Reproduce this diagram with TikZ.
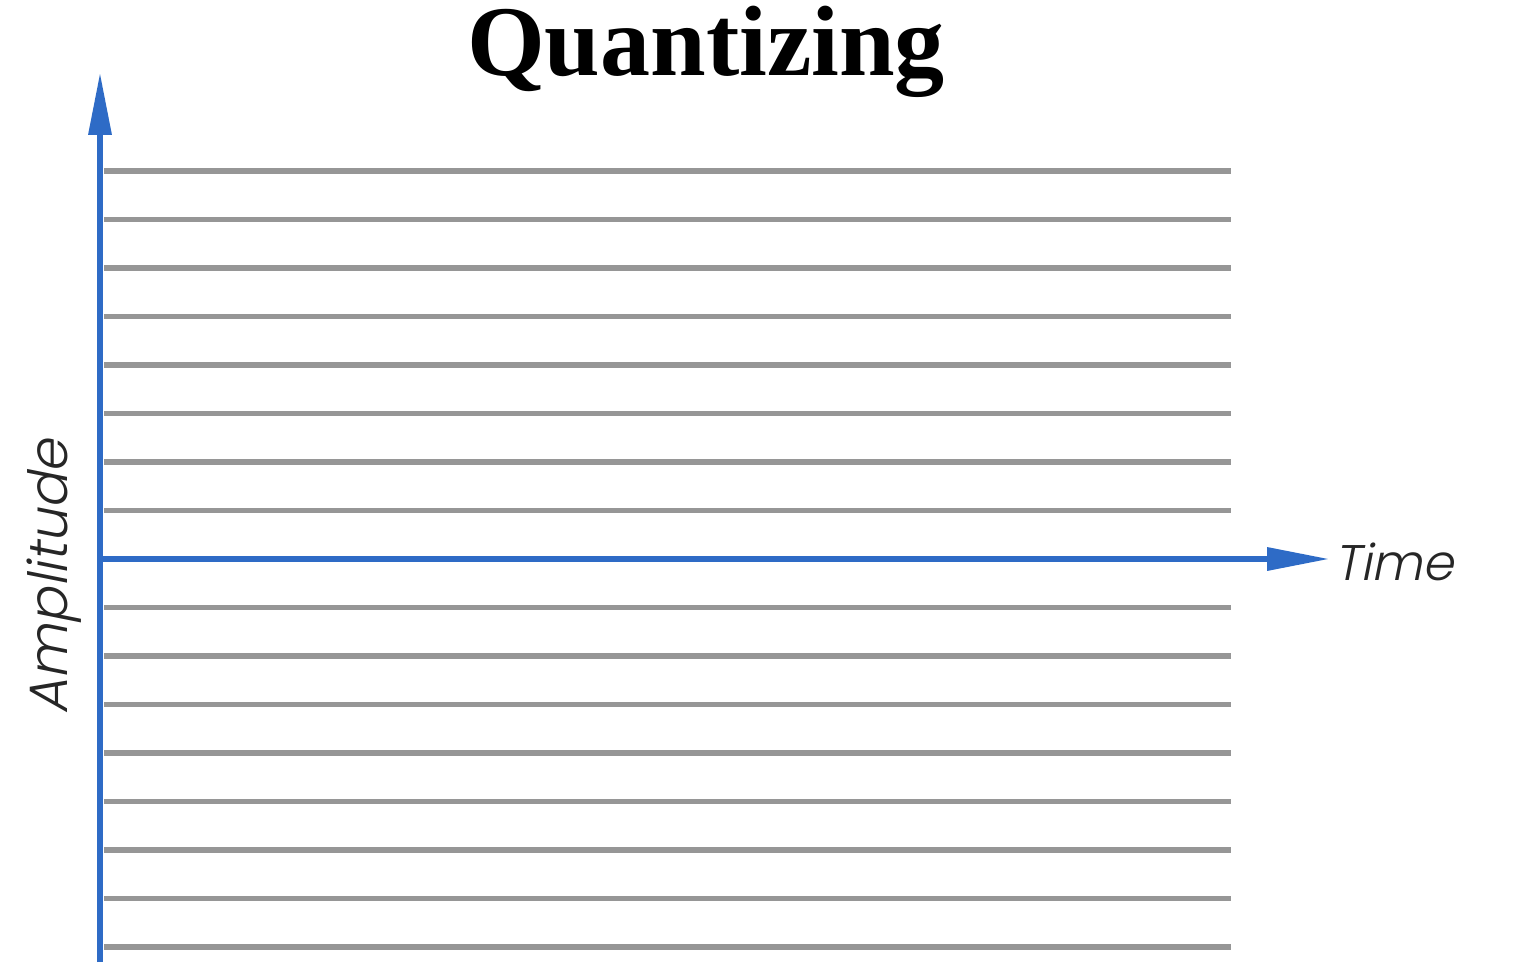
\documentclass[tikz,border=0pt]{standalone}
\usepackage{fontspec}
\setmainfont{Liberation Serif}
\newfontfamily\axfont[FakeSlant=0.2]{Poppins Light}
\usetikzlibrary{arrows.meta}
\definecolor{axisblue}{HTML}{2E6BC6}
\definecolor{levelgray}{HTML}{969696}
\tikzset{
  axisline/.style={draw=axisblue,line width=6.5pt,-{Triangle[length=63pt,width=22pt]}},
  level/.style={draw=levelgray,line width=5.5pt},
  axlabel/.style={font=\axfont\fontsize{50}{50}\selectfont,inner sep=0pt,text=black!85},
}
\begin{document}
\begin{tikzpicture}[x=1pt,y=-1pt]
\useasboundingbox[fill=white] (0,0) rectangle (1514,976);
\node[font=\bfseries\fontsize{100}{100}\selectfont,inner sep=0pt,anchor=base] (title) at (706,76) {Quantizing};
\foreach \k in {-8,...,-1,1,2,...,8}{
  \coordinate (l\k a) at (104,559+\k*48.47);
  \coordinate (l\k b) at (1231,559+\k*48.47);
  \draw[level] (l\k a) -- (l\k b);
}
\coordinate (vbot) at (100,962);
\coordinate (vtop) at (100,72);
\coordinate (hleft) at (98,559);
\coordinate (hright) at (1330,559);
\draw[axisline] (vbot) -- (vtop);
\draw[axisline] (hleft) -- (hright);
\node[axlabel,anchor=west] (time) at (1334,562) {Time};
\node[axlabel,rotate=90,font=\axfont\fontsize{54}{54}\selectfont] (amp) at (54,577) {Amplitude};
\end{tikzpicture}
\end{document}
